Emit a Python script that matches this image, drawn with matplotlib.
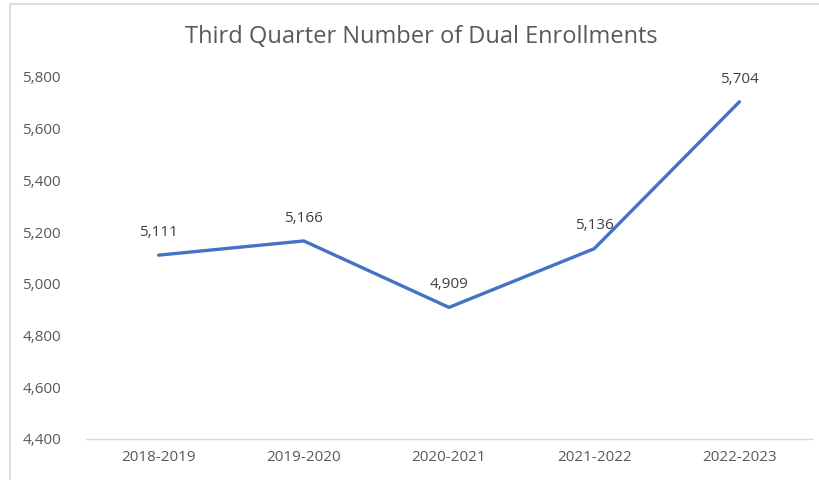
import matplotlib
matplotlib.use("Agg")
import matplotlib.pyplot as plt
from matplotlib.patches import Rectangle

years = ["2018-2019", "2019-2020", "2020-2021", "2021-2022", "2022-2023"]
enrollments = [5111, 5166, 4909, 5136, 5704]
y_ticks = [4400, 4600, 4800, 5000, 5200, 5400, 5600, 5800]

plt.rcParams['font.family'] = ['Open Sans', 'DejaVu Sans']

fig = plt.figure(figsize=(8.2, 4.8), dpi=100)
fig.patch.set_facecolor("white")
ax = fig.add_axes([86/820, 41/480, (812-86)/820, (439-77)/480])

x = list(range(len(years)))
ax.plot(x, enrollments, color="#4472C4", linewidth=2.4, solid_capstyle="round", solid_joinstyle="round")
for xi, v in zip(x, enrollments):
    ax.annotate(f"{v:,}", (xi, v), xytext=(0, 11), textcoords="offset points",
                ha="center", va="bottom", fontsize=11, color="#404040")

ax.set_xlim(-0.5, len(years) - 0.5)
ax.set_ylim(4400, 5800)
ax.set_yticks(y_ticks)
ax.set_yticklabels([f"{t:,}" for t in y_ticks])
ax.set_xticks(x)
ax.set_xticklabels(years)
ax.tick_params(axis="both", length=0, labelsize=11, labelcolor="#595959")
ax.tick_params(axis="y", pad=18)
ax.tick_params(axis="x", pad=8)
for s in ["top", "right", "left"]:
    ax.spines[s].set_visible(False)
ax.spines["bottom"].set_color("#D9D9D9")
ax.spines["bottom"].set_linewidth(1.0)

fig.text(421/820, 1 - 37/480, "Third Quarter Number of Dual Enrollments",
         ha="center", va="center", fontsize=17, color="#595959")

fig.patches.append(Rectangle((10/820, -0.1), 1.0, 1 - 4/480 + 0.1, transform=fig.transFigure,
                             fill=False, edgecolor="#D9D9D9", linewidth=1.2))

fig.savefig("out.png", dpi=100, facecolor="white")
